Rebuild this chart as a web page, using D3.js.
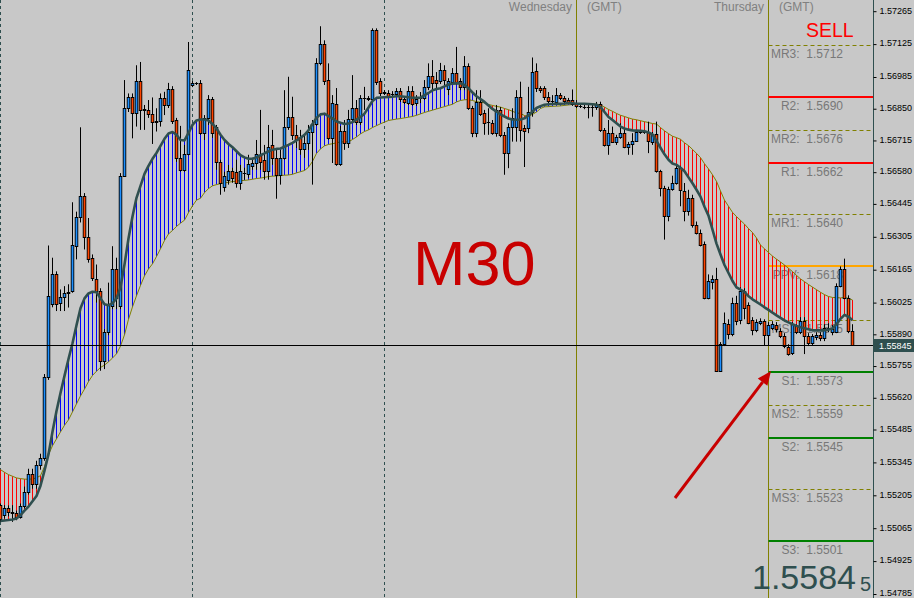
<!DOCTYPE html>
<html><head><meta charset="utf-8">
<script src="https://cdn.jsdelivr.net/npm/d3@7"></script>
<style>html,body{margin:0;padding:0;background:#c8c8c8;overflow:hidden}svg{display:block}text{font-family:"Liberation Sans",Arial,sans-serif}</style>
</head><body>
<svg id="c" width="914" height="598"></svg>
<script>
const open=[1.55163,1.55121,1.55149,1.55132,1.55128,1.55114,1.55160,1.55219,1.55297,1.55254,
1.55332,1.55364,1.55707,1.56018,1.56145,1.56022,1.56050,1.56067,1.56074,1.56265,
1.56390,1.56480,1.56305,1.56214,1.56127,1.56074,1.55777,1.55898,1.56011,1.56169,
1.56011,1.56565,1.56852,1.56898,1.56831,1.56969,1.56845,1.56845,1.56827,1.56795,
1.56799,1.56894,1.56866,1.56934,1.56802,1.56640,1.56590,1.56657,1.56951,1.56958,
1.56958,1.56746,1.56809,1.56891,1.56774,1.56625,1.56519,1.56548,1.56583,1.56579,
1.56536,1.56576,1.56573,1.56608,1.56619,1.56654,1.56630,1.56583,1.56696,1.56640,
1.56569,1.56640,1.56771,1.56816,1.56739,1.56729,1.56678,1.56706,1.56753,1.56785,
1.57045,1.57124,1.56972,1.56724,1.56870,1.56616,1.56757,1.56703,1.56808,1.56852,
1.56795,1.56894,1.56894,1.56892,1.57184,1.56968,1.56917,1.56918,1.56912,1.56912,
1.56925,1.56891,1.56875,1.56925,1.56873,1.56894,1.56894,1.56943,1.56990,1.56972,
1.56968,1.57014,1.56932,1.56965,1.57003,1.56969,1.56941,1.57031,1.56852,1.56748,
1.56880,1.56831,1.56795,1.56791,1.56746,1.56845,1.56739,1.56661,1.56771,1.56774,
1.56901,1.56767,1.56767,1.56837,1.57011,1.56937,1.56937,1.56901,1.56884,1.56880,
1.56908,1.56894,1.56887,1.56887,1.56873,1.56862,1.56857,1.56856,1.56856,1.56856,
1.56870,1.56760,1.56696,1.56748,1.56710,1.56729,1.56748,1.56686,1.56700,1.56714,
1.56753,1.56753,1.56753,1.56710,1.56743,1.56583,1.56513,1.56395,1.56508,1.56536,
1.56597,1.56498,1.56413,1.56470,1.56357,1.56322,1.56276,1.56046,1.56112,1.56127,
1.55735,1.55848,1.55933,1.55891,1.56022,1.55951,1.56074,1.56014,1.55951,1.55909,
1.55940,1.55947,1.55886,1.55919,1.55929,1.55905,1.55883,1.55838,1.55810,1.55925,
1.55900,1.55947,1.55883,1.55855,1.55877,1.55886,1.55873,1.55919,1.55898,1.55900,
1.56095,1.56169,1.56046,1.55905];
const high=[1.55170,1.55163,1.55162,1.55163,1.55140,1.55170,1.55242,1.55318,1.55318,1.55352,
1.55382,1.55721,1.56268,1.56216,1.56158,1.56081,1.56095,1.56103,1.56452,1.56412,
1.56771,1.56491,1.56385,1.56230,1.56187,1.56086,1.55912,1.56110,1.56265,1.56216,
1.56576,1.56972,1.56915,1.56915,1.57035,1.57049,1.56866,1.56887,1.56898,1.56852,
1.56915,1.56922,1.56960,1.56946,1.56811,1.56777,1.56696,1.57134,1.56968,1.56963,
1.56972,1.56823,1.56908,1.56900,1.56781,1.56633,1.56582,1.56611,1.56599,1.56633,
1.56611,1.56599,1.56654,1.56641,1.56717,1.56845,1.56696,1.56781,1.56760,1.56675,
1.56675,1.56929,1.56986,1.56901,1.56781,1.56760,1.56739,1.56781,1.56802,1.57065,
1.57201,1.57141,1.57043,1.56908,1.56938,1.56777,1.56802,1.56845,1.56993,1.56887,
1.56908,1.56943,1.56904,1.57192,1.57192,1.56980,1.56929,1.56929,1.56925,1.56938,
1.56938,1.56904,1.56946,1.56946,1.56908,1.56921,1.56972,1.57043,1.57057,1.57006,
1.57045,1.57035,1.56980,1.57023,1.57113,1.56980,1.57074,1.57043,1.56862,1.56929,
1.56929,1.56845,1.56852,1.56802,1.56866,1.56857,1.56751,1.56788,1.56852,1.56929,
1.56965,1.56781,1.56943,1.57068,1.57043,1.56946,1.56946,1.56921,1.56908,1.56938,
1.56917,1.56904,1.56896,1.56932,1.56887,1.56870,1.56866,1.56866,1.56866,1.56879,
1.56880,1.56768,1.56802,1.56774,1.56739,1.56788,1.56767,1.56709,1.56746,1.56760,
1.56760,1.56760,1.56795,1.56751,1.56795,1.56590,1.56522,1.56518,1.56565,1.56611,
1.56607,1.56534,1.56505,1.56484,1.56370,1.56336,1.56285,1.56145,1.56141,1.56173,
1.55857,1.55983,1.55954,1.56046,1.56054,1.56090,1.56086,1.56026,1.55963,1.55954,
1.55958,1.55954,1.55942,1.55946,1.55942,1.55916,1.55895,1.55848,1.55942,1.55933,
1.55963,1.55963,1.55895,1.55891,1.55899,1.55899,1.55933,1.55937,1.55929,1.56107,
1.56179,1.56212,1.56056,1.55933];
const low=[1.55092,1.55106,1.55115,1.55092,1.55099,1.55106,1.55149,1.55208,1.55233,1.55233,
1.55314,1.55352,1.55696,1.56005,1.55989,1.55989,1.55989,1.56004,1.56067,1.56209,
1.56366,1.56251,1.56195,1.56117,1.56025,1.55735,1.55742,1.55886,1.55997,1.55997,
1.55997,1.56561,1.56836,1.56724,1.56774,1.56760,1.56760,1.56811,1.56700,1.56753,
1.56774,1.56823,1.56853,1.56785,1.56624,1.56582,1.56582,1.56652,1.56942,1.56951,
1.56739,1.56717,1.56781,1.56726,1.56590,1.56484,1.56497,1.56527,1.56535,1.56514,
1.56505,1.56548,1.56556,1.56590,1.56590,1.56590,1.56548,1.56548,1.56611,1.56467,
1.56527,1.56633,1.56760,1.56717,1.56683,1.56654,1.56641,1.56675,1.56527,1.56777,
1.57035,1.56951,1.56717,1.56619,1.56607,1.56607,1.56675,1.56683,1.56794,1.56781,
1.56781,1.56845,1.56883,1.56887,1.56951,1.56904,1.56908,1.56896,1.56900,1.56900,
1.56879,1.56870,1.56866,1.56862,1.56862,1.56874,1.56887,1.56929,1.56929,1.56929,
1.56955,1.56951,1.56908,1.56951,1.56951,1.56929,1.56929,1.56845,1.56729,1.56729,
1.56819,1.56739,1.56739,1.56739,1.56731,1.56729,1.56569,1.56597,1.56710,1.56710,
1.56710,1.56602,1.56746,1.56816,1.56921,1.56917,1.56887,1.56874,1.56870,1.56874,
1.56887,1.56874,1.56870,1.56862,1.56853,1.56853,1.56848,1.56809,1.56816,1.56845,
1.56751,1.56689,1.56654,1.56705,1.56696,1.56722,1.56682,1.56654,1.56654,1.56709,
1.56743,1.56743,1.56661,1.56696,1.56578,1.56477,1.56293,1.56371,1.56501,1.56527,
1.56435,1.56371,1.56395,1.56344,1.56315,1.56264,1.56039,1.56039,1.56081,1.55734,
1.55734,1.55840,1.55869,1.55882,1.55929,1.55933,1.55954,1.55933,1.55886,1.55899,
1.55929,1.55844,1.55844,1.55908,1.55899,1.55874,1.55831,1.55799,1.55802,1.55891,
1.55891,1.55806,1.55840,1.55844,1.55865,1.55861,1.55861,1.55899,1.55886,1.55895,
1.56090,1.56039,1.55895,1.55844];
const close=[1.55106,1.55149,1.55132,1.55128,1.55114,1.55160,1.55219,1.55297,1.55254,1.55335,
1.55364,1.55707,1.56053,1.56145,1.56018,1.56050,1.56067,1.56070,1.56268,1.56390,
1.56480,1.56305,1.56212,1.56131,1.56074,1.55777,1.55898,1.56014,1.56169,1.56046,
1.56565,1.56852,1.56898,1.56831,1.56969,1.56845,1.56847,1.56827,1.56792,1.56798,
1.56894,1.56866,1.56934,1.56799,1.56640,1.56590,1.56657,1.57014,1.56960,1.56958,
1.56746,1.56809,1.56891,1.56746,1.56625,1.56534,1.56565,1.56583,1.56555,1.56534,
1.56583,1.56578,1.56616,1.56621,1.56658,1.56625,1.56587,1.56689,1.56640,1.56569,
1.56640,1.56771,1.56816,1.56739,1.56717,1.56678,1.56706,1.56753,1.56785,1.57045,
1.57124,1.56969,1.56724,1.56875,1.56616,1.56757,1.56703,1.56808,1.56852,1.56795,
1.56894,1.56894,1.56893,1.57184,1.56965,1.56915,1.56920,1.56904,1.56912,1.56925,
1.56890,1.56880,1.56925,1.56870,1.56892,1.56894,1.56943,1.56990,1.56958,1.56958,
1.57014,1.56972,1.56969,1.57003,1.56965,1.56941,1.57031,1.56852,1.56748,1.56880,
1.56828,1.56791,1.56795,1.56746,1.56845,1.56739,1.56661,1.56774,1.56809,1.56901,
1.56760,1.56757,1.56837,1.57007,1.56937,1.56929,1.56901,1.56884,1.56884,1.56908,
1.56894,1.56884,1.56875,1.56870,1.56862,1.56860,1.56856,1.56856,1.56856,1.56870,
1.56760,1.56696,1.56746,1.56710,1.56729,1.56748,1.56686,1.56700,1.56714,1.56753,
1.56754,1.56753,1.56714,1.56743,1.56583,1.56513,1.56395,1.56508,1.56536,1.56597,
1.56505,1.56413,1.56470,1.56357,1.56322,1.56272,1.56046,1.56117,1.56127,1.55735,
1.55848,1.55937,1.55891,1.56022,1.55947,1.56074,1.56004,1.55940,1.55909,1.55943,
1.55947,1.55886,1.55929,1.55933,1.55912,1.55883,1.55841,1.55806,1.55933,1.55900,
1.55947,1.55883,1.55853,1.55881,1.55886,1.55874,1.55919,1.55912,1.55912,1.56095,
1.56169,1.56046,1.55905,1.55845];
const fastMA=[1.55096,1.55098,1.55100,1.55102,1.55106,1.55121,1.55140,1.55157,1.55180,1.55202,
1.55246,1.55310,1.55380,1.55475,1.55564,1.55640,1.55713,1.55785,1.55852,1.55929,
1.56001,1.56043,1.56064,1.56071,1.56069,1.56043,1.56018,1.56014,1.56022,1.56043,
1.56090,1.56187,1.56298,1.56391,1.56471,1.56522,1.56573,1.56607,1.56637,1.56662,
1.56692,1.56722,1.56745,1.56751,1.56739,1.56717,1.56715,1.56747,1.56781,1.56800,
1.56804,1.56804,1.56800,1.56785,1.56766,1.56739,1.56717,1.56700,1.56686,1.56669,
1.56652,1.56643,1.56637,1.56637,1.56643,1.56652,1.56660,1.56669,1.56675,1.56679,
1.56681,1.56688,1.56696,1.56705,1.56715,1.56726,1.56739,1.56758,1.56785,1.56811,
1.56826,1.56829,1.56819,1.56809,1.56796,1.56790,1.56785,1.56787,1.56793,1.56804,
1.56815,1.56829,1.56855,1.56883,1.56896,1.56898,1.56899,1.56900,1.56901,1.56903,
1.56903,1.56901,1.56899,1.56897,1.56897,1.56897,1.56908,1.56917,1.56928,1.56934,
1.56937,1.56945,1.56953,1.56957,1.56958,1.56958,1.56951,1.56937,1.56919,1.56903,
1.56891,1.56879,1.56864,1.56849,1.56838,1.56826,1.56817,1.56808,1.56804,1.56803,
1.56804,1.56809,1.56821,1.56838,1.56853,1.56861,1.56867,1.56869,1.56870,1.56871,
1.56871,1.56872,1.56874,1.56873,1.56871,1.56871,1.56871,1.56870,1.56869,1.56867,
1.56857,1.56836,1.56815,1.56802,1.56788,1.56774,1.56766,1.56761,1.56758,1.56757,
1.56756,1.56754,1.56749,1.56741,1.56713,1.56684,1.56656,1.56633,1.56617,1.56611,
1.56599,1.56584,1.56558,1.56533,1.56505,1.56476,1.56433,1.56395,1.56336,1.56276,
1.56230,1.56185,1.56151,1.56117,1.56090,1.56080,1.56071,1.56052,1.56039,1.56028,
1.56017,1.56005,1.55994,1.55982,1.55971,1.55960,1.55949,1.55941,1.55933,1.55926,
1.55920,1.55916,1.55912,1.55907,1.55907,1.55907,1.55907,1.55910,1.55915,1.55933,
1.55956,1.55973,1.55965,1.55950];
const slowMA=[1.55314,1.55303,1.55293,1.55286,1.55279,1.55276,1.55274,1.55273,1.55275,1.55279,
1.55289,1.55327,1.55378,1.55416,1.55445,1.55475,1.55503,1.55526,1.55560,1.55594,
1.55628,1.55657,1.55689,1.55715,1.55733,1.55749,1.55759,1.55773,1.55789,1.55807,
1.55840,1.55888,1.55954,1.56007,1.56054,1.56098,1.56139,1.56168,1.56190,1.56221,
1.56254,1.56289,1.56317,1.56332,1.56349,1.56363,1.56376,1.56408,1.56437,1.56461,
1.56469,1.56493,1.56510,1.56522,1.56527,1.56531,1.56534,1.56537,1.56540,1.56542,
1.56544,1.56545,1.56547,1.56550,1.56553,1.56555,1.56558,1.56561,1.56563,1.56564,
1.56566,1.56567,1.56568,1.56571,1.56577,1.56582,1.56587,1.56601,1.56626,1.56660,
1.56679,1.56692,1.56698,1.56701,1.56705,1.56709,1.56709,1.56709,1.56719,1.56730,
1.56743,1.56753,1.56760,1.56770,1.56778,1.56786,1.56793,1.56800,1.56803,1.56806,
1.56808,1.56811,1.56814,1.56817,1.56822,1.56828,1.56834,1.56839,1.56844,1.56849,
1.56854,1.56859,1.56864,1.56869,1.56879,1.56885,1.56888,1.56889,1.56885,1.56880,
1.56878,1.56875,1.56868,1.56864,1.56860,1.56857,1.56851,1.56846,1.56839,1.56832,
1.56830,1.56821,1.56819,1.56826,1.56836,1.56851,1.56858,1.56859,1.56860,1.56861,
1.56862,1.56864,1.56866,1.56868,1.56869,1.56870,1.56871,1.56872,1.56871,1.56869,
1.56866,1.56857,1.56847,1.56839,1.56830,1.56822,1.56817,1.56811,1.56806,1.56803,
1.56799,1.56795,1.56791,1.56787,1.56785,1.56770,1.56756,1.56744,1.56733,1.56727,
1.56720,1.56705,1.56693,1.56677,1.56660,1.56642,1.56616,1.56594,1.56569,1.56541,
1.56500,1.56461,1.56435,1.56409,1.56391,1.56375,1.56359,1.56340,1.56323,1.56300,
1.56270,1.56254,1.56238,1.56223,1.56210,1.56198,1.56185,1.56171,1.56157,1.56141,
1.56126,1.56114,1.56102,1.56091,1.56080,1.56069,1.56059,1.56051,1.56047,1.56046,
1.56045,1.56047,1.56043,1.56036];
const pivotNames=["MR3","R2","MR2","R1","MR1","PPV","MS1","S1","MS2","S2","MS3","S3"];
const pivotValues=[1.5712,1.5690,1.5676,1.5662,1.5640,1.5618,1.5595,1.5573,1.5559,1.5545,1.5523,1.5501];
const pivotKinds=["mid","res","mid","res","mid","pp","mid","sup","mid","sup","mid","sup"];
const axisTicks=[1.57265,1.57125,1.56985,1.56850,1.56715,1.56580,1.56445,1.56305,1.56165,1.56025,1.55890,1.55755,1.55620,1.55485,1.55345,1.55205,1.55065,1.54925,1.54785];
const gridBars=[0,48,96];
const daySeparators=[{bar:144,day:"Wednesday"},{bar:192,day:"Thursday"}];
const lastPrice=1.55845;
const chartTitle="M30", signal="SELL";

const W=914,H=598,plotR=873;
const svg=d3.select('#c');
const n=close.length;
const x=d3.scaleLinear().domain([0,213]).range([0.5,852.5]);
const y=d3.scaleLinear().domain([1.54785,1.57265]).range([594.0,11.2]);
svg.append('rect').attr('width',W).attr('height',H).attr('fill','#c8c8c8');

// grid
svg.selectAll('.grid').data(gridBars).enter().append('line')
 .attr('x1',d=>x(d)).attr('x2',d=>x(d)).attr('y1',0).attr('y2',H)
 .attr('stroke','#2f4f4f').attr('stroke-dasharray','3,3').attr('stroke-width',1);
// separators
svg.selectAll('.sep').data(daySeparators).enter().append('line')
 .attr('x1',d=>x(d.bar)).attr('x2',d=>x(d.bar)).attr('y1',0).attr('y2',H)
 .attr('stroke','#808000').attr('stroke-width',1);
daySeparators.forEach(d=>{
 svg.append('text').attr('x',x(d.bar)-4.5).attr('y',11).attr('text-anchor','end')
  .attr('font-size',12).attr('fill','#808080').text(d.day);
 svg.append('text').attr('x',x(d.bar)+10.5).attr('y',11)
  .attr('font-size',12).attr('fill','#808080').text('(GMT)');
});

// pivots
const px0=x(192), px1=plotR;
pivotValues.forEach((v,i)=>{
 const k=pivotKinds[i];
 const yy=Math.round(y(v));
 const ln=svg.append('line').attr('x1',px0).attr('x2',px1).attr('y1',yy).attr('y2',yy);
 if(k==='mid'){ln.attr('stroke','#808000').attr('stroke-width',1).attr('stroke-dasharray','4,3').attr('y1',yy+0.5).attr('y2',yy+0.5);}
 else{ln.attr('stroke',k==='res'?'#ff0000':k==='sup'?'#008000':'#ffa500').attr('stroke-width',2);}
 svg.append('text').attr('x',843).attr('y',yy+12.5).attr('text-anchor','end')
  .attr('font-size',12).attr('fill','#787878').style('white-space','pre')
  .text(pivotNames[i]+':  '+v.toFixed(4));
});

// histogram
svg.append('g').selectAll('line').data(d3.range(n)).enter().append('line')
 .attr('x1',i=>x(i)).attr('x2',i=>x(i))
 .attr('y1',i=>y(fastMA[i])).attr('y2',i=>y(slowMA[i]))
 .attr('stroke',i=>fastMA[i]>=slowMA[i]?'#0000ff':'#ff0000').attr('stroke-width',1);

// slow MA
svg.append('path').datum(slowMA).attr('fill','none').attr('stroke','#808000').attr('stroke-width',1)
 .attr('d',d3.line().x((d,i)=>x(i)).y(d=>y(d)));

// candles
const cg=svg.append('g');
d3.range(n).forEach(i=>{
 const cx=x(i);
 cg.append('line').attr('x1',cx).attr('x2',cx).attr('y1',y(high[i])).attr('y2',y(low[i]))
  .attr('stroke','#000').attr('stroke-width',1);
 const o=open[i],c=close[i];
 const top=Math.round(y(Math.max(o,c))), bot=Math.round(y(Math.min(o,c)));
 const h=Math.max(bot-top,0);
 cg.append('rect').attr('x',cx-1.75).attr('width',3.5).attr('y',top).attr('height',h+1).attr('fill','#000');
 if(h>1 && o!==c){
  cg.append('rect').attr('x',cx-0.85).attr('width',1.7).attr('y',top+1).attr('height',h-1)
   .attr('fill',c>o?'#1e90ff':'#ff4500');
 }
});

// fast MA
svg.append('path').datum(fastMA).attr('fill','none').attr('stroke','#2f4f4f').attr('stroke-width',2.6)
 .attr('stroke-linejoin','round').attr('d',d3.line().x((d,i)=>x(i)).y(d=>y(d)));

// last price line
const ly=Math.round(y(lastPrice))+0.5;
svg.append('line').attr('x1',0).attr('x2',plotR).attr('y1',ly).attr('y2',ly).attr('stroke','#000').attr('stroke-width',1);

// axis
svg.append('rect').attr('x',plotR+0.5).attr('y',0).attr('width',W-plotR).attr('height',H).attr('fill','#c8c8c8');
svg.append('line').attr('x1',plotR+0.5).attr('x2',plotR+0.5).attr('y1',0).attr('y2',H).attr('stroke','#2f4f4f');
const ax=svg.append('g').attr('transform',`translate(${plotR+0.5},0)`)
 .call(d3.axisRight(y).tickValues(axisTicks).tickSize(3).tickPadding(3).tickFormat(d3.format('.5f')));
ax.select('.domain').remove();
ax.selectAll('text').attr('font-size',9).attr('fill','#000').attr('dy','0.2em').attr('font-family','"Liberation Sans",Arial,sans-serif');
ax.selectAll('line').attr('stroke','#000');
svg.append('rect').attr('x',874).attr('y',ly-6.5).attr('width',40).attr('height',13).attr('fill','#2f4f4f');
svg.append('text').attr('x',879).attr('y',ly+3.5).attr('font-size',9).attr('fill','#fff').text(lastPrice.toFixed(5));

// annotations
svg.append('text').attr('x',806).attr('y',36.7).attr('font-size',19.5).attr('fill','#ff0000').text(signal);
svg.append('text').attr('x',413).attr('y',285).attr('font-size',63).attr('fill','#c80000').text(chartTitle);
const ps=lastPrice.toFixed(5);
svg.append('text').attr('x',752).attr('y',588.5).attr('font-size',34).attr('fill','#2f4f4f').text(ps.slice(0,6));
svg.append('text').attr('x',860).attr('y',590.5).attr('font-size',20).attr('fill','#2f4f4f').text(ps.slice(6));

// arrow
svg.append('line').attr('x1',675).attr('y1',498).attr('x2',762.6).attr('y2',382.2)
 .attr('stroke','#c80000').attr('stroke-width',3);
svg.append('path').attr('d','M771,371 L767.4,385.8 L757.8,378.6 Z').attr('fill','#c80000');
</script>
</body></html>
